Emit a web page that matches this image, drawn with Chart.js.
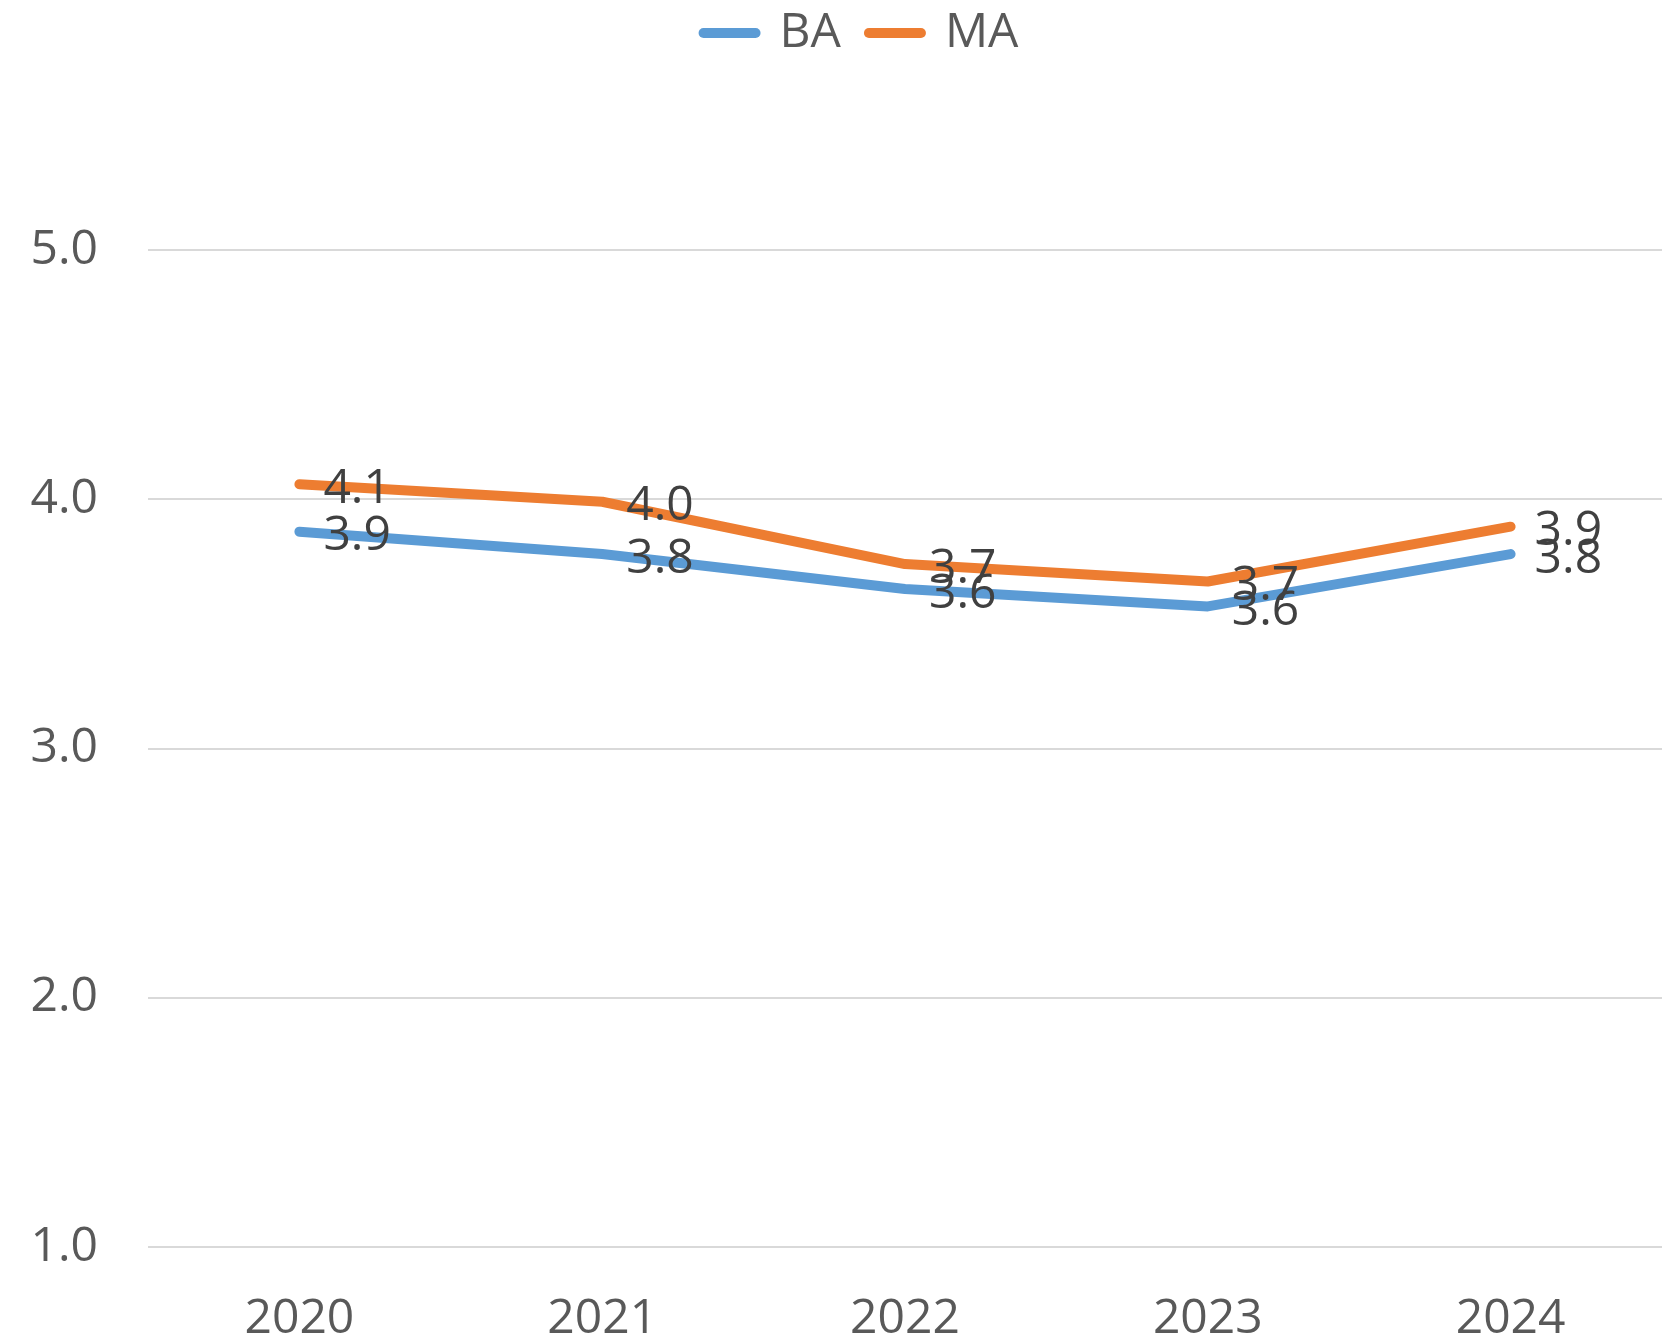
<!DOCTYPE html>
<html>
<head>
<meta charset="utf-8">
<script src="https://cdn.jsdelivr.net/npm/chart.js@4/dist/chart.umd.min.js"></script>
<style>
  html, body { margin: 0; padding: 0; background: #fff; }
</style>
</head>
<body>
<canvas id="lineChart" width="1662" height="1339"></canvas>
<script>
// data
const years = ['2020', '2021', '2022', '2023', '2024']
const baValues = [3.87, 3.78, 3.64, 3.57, 3.78]
const maValues = [4.06, 3.99, 3.74, 3.67, 3.89]
const yTicks = [1, 2, 3, 4, 5]

const FONT = "'Open Sans', 'DejaVu Sans', sans-serif"

// labels to the right of each point
const pointLabels = {
  id: 'pointLabels',
  afterDatasetsDraw(chart) {
    const { ctx } = chart
    ctx.save()
    ctx.font = `48px ${FONT}`
    ctx.fillStyle = '#404040'
    ctx.textAlign = 'left'
    ctx.textBaseline = 'middle'
    chart.data.datasets.forEach((dataset, idx) => {
      chart.getDatasetMeta(idx).data.forEach((pt, i) => {
        ctx.fillText(dataset.data[i].toFixed(1), pt.x + 24, pt.y + 5)
      })
    })
    ctx.restore()
  },
}

// push plot area down below the legend, nudge legend into place
const legendSpace = {
  id: 'legendSpace',
  beforeInit(chart) {
    const fit = chart.legend.fit
    chart.legend.fit = function () {
      fit.bind(chart.legend)()
      this.height = 250
    }
  },
  afterLayout(chart) {
    const lg = chart.legend
    lg.left += 30
    lg.right += 30
    lg.top -= 19
  },
}

new Chart(document.getElementById('lineChart').getContext('2d'), {
  type: 'line',
  data: {
    labels: years,
    datasets: [
      { label: 'BA', data: baValues, borderColor: '#5B9BD5', backgroundColor: '#5B9BD5' },
      { label: 'MA', data: maValues, borderColor: '#ED7D31', backgroundColor: '#ED7D31' },
    ],
  },
  options: {
    responsive: false,
    animation: false,
    layout: { padding: 0 },
    elements: {
      line: { borderWidth: 10, tension: 0, borderCapStyle: 'round', borderJoinStyle: 'round' },
      point: { radius: 0, hoverRadius: 0 },
    },
    scales: {
      x: {
        offset: true,
        grid: { display: false, drawTicks: false },
        border: { display: false },
        ticks: { color: '#595959', font: { family: FONT, size: 48 }, padding: 44 },
        afterFit(scale) { scale.height = 92 },
      },
      y: {
        min: 1,
        max: 5,
        afterBuildTicks(scale) { scale.ticks = yTicks.map((v) => ({ value: v })) },
        grid: { color: '#D9D9D9', lineWidth: 2, drawTicks: false },
        border: { display: false },
        ticks: {
          color: '#595959',
          font: { family: FONT, size: 48 },
          padding: 50,
          callback: (v) => Number(v).toFixed(1),
        },
        afterFit(scale) { scale.width = 148 },
      },
    },
    plugins: {
      tooltip: { enabled: false },
      legend: {
        position: 'top',
        labels: {
          color: '#595959',
          font: { family: FONT, size: 48 },
          usePointStyle: true,
          pointStyleWidth: 52,
          padding: 28,
          generateLabels(chart) {
            return chart.data.datasets.map((ds, i) => ({
              text: ds.label,
              datasetIndex: i,
              pointStyle: 'line',
              strokeStyle: ds.borderColor,
              fillStyle: ds.borderColor,
              lineWidth: 10,
              lineCap: 'round',
              fontColor: '#595959',
            }))
          },
        },
      },
    },
  },
  plugins: [pointLabels, legendSpace],
})
</script>
</body>
</html>
